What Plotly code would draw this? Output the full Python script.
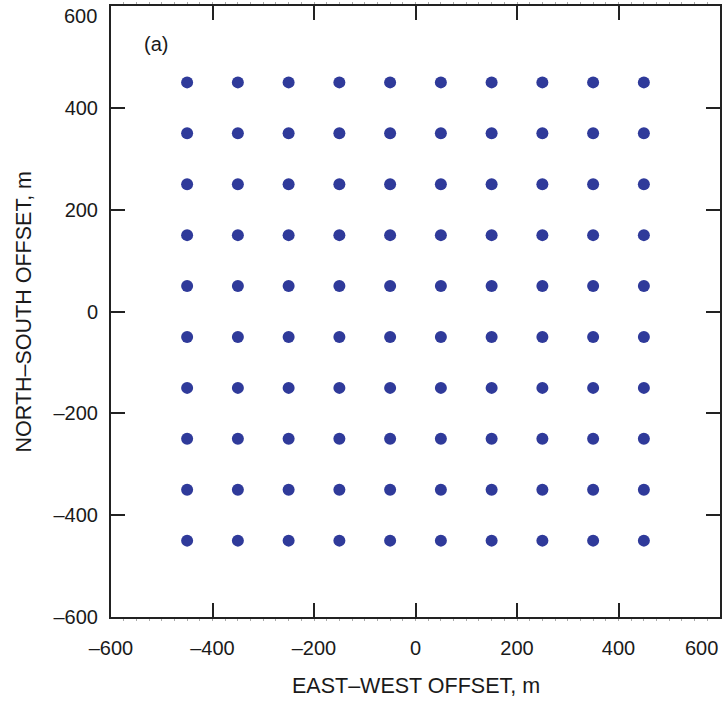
import plotly.graph_objects as go

# Grid of station positions (m)
east_offsets = [-450, -350, -250, -150, -50, 50, 150, 250, 350, 450]
north_offsets = [-450, -350, -250, -150, -50, 50, 150, 250, 350, 450]

tick_vals = [-600, -400, -200, 0, 200, 400, 600]
tick_text = ["\u2013600", "\u2013400", "\u2013200", "0", "200", "400", ""]
edge_label = "600"

FONT = "Liberation Sans, Arial, Helvetica, sans-serif"
TXT = "#1a1a1a"
FS = 20
FS_TITLE = 21.5

xs = [e for n in north_offsets for e in east_offsets]
ys = [n for n in north_offsets for e in east_offsets]

fig = go.Figure()
fig.add_trace(go.Scatter(
    x=xs, y=ys, mode="markers",
    marker=dict(size=12, color="#2f3a9a", line=dict(width=0)),
    showlegend=False, hoverinfo="x+y",
))

axis_common = dict(
    range=[-600, 600], automargin=False,
    tickvals=tick_vals, ticktext=tick_text,
    ticks="inside", ticklen=14, tickwidth=1.5, tickcolor="#222222",
    showline=True, linewidth=2, linecolor="#222222", mirror="ticks",
    showgrid=False, zeroline=False,
    tickfont=dict(family=FONT, size=FS, color=TXT),
)

fig.update_xaxes(
    **axis_common,
    ticklabelstandoff=12,
    minor=dict(ticks="outside", ticklen=2, tickwidth=1, tickcolor="#aaaaaa", dtick=25, showgrid=False),
)
fig.update_yaxes(**axis_common, ticklabelstandoff=7)

# end-of-range labels, pulled inside the figure as in the original
fig.add_annotation(x=600, xref="x", y=0, yref="paper", text=edge_label, showarrow=False,
                   xanchor="right", yanchor="top", yshift=-18,
                   font=dict(family=FONT, size=FS, color=TXT))
fig.add_annotation(x=0, xref="paper", y=600, yref="y", text=edge_label, showarrow=False,
                   xanchor="right", yanchor="top", xshift=-12, yshift=3,
                   font=dict(family=FONT, size=FS, color=TXT))

# axis titles
fig.add_annotation(x=0.5, xref="paper", y=0, yref="paper", text="EAST\u2013WEST OFFSET, m",
                   showarrow=False, xanchor="center", yanchor="middle", yshift=-69,
                   font=dict(family=FONT, size=FS_TITLE, color=TXT))
fig.add_annotation(x=0, xref="paper", y=0.5, yref="paper", text="NORTH\u2013SOUTH OFFSET, m",
                   showarrow=False, textangle=-90, xanchor="center", yanchor="middle", xshift=-88,
                   font=dict(family=FONT, size=FS_TITLE, color=TXT))

fig.add_annotation(x=-512, y=525, xref="x", yref="y", text="(a)", showarrow=False,
                   font=dict(family=FONT, size=FS, color=TXT))

fig.update_layout(
    width=725, height=704,
    margin=dict(l=111, r=5, t=6, b=87),
    plot_bgcolor="white", paper_bgcolor="white",
)

fig.write_html("out.html", config={"displayModeBar": False},
               post_script="document.body.style.margin='0';")
